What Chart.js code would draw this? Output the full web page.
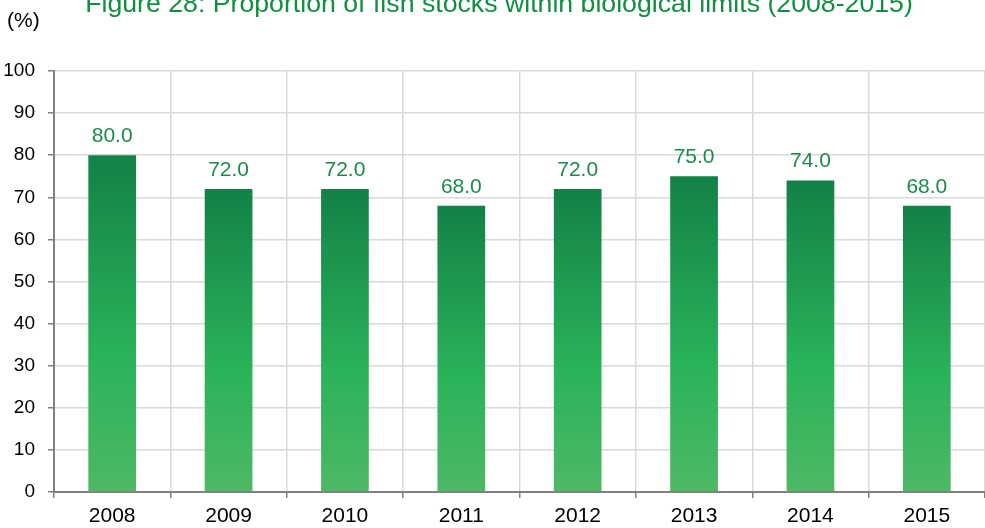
<!DOCTYPE html>
<html>
<head>
<meta charset="utf-8">
<script src="https://cdn.jsdelivr.net/npm/chart.js@4/dist/chart.umd.min.js"></script>
<style>
  html, body { margin:0; padding:0; background:#fff; }
  #wrap { width:985px; height:528px; position:relative; }
</style>
</head>
<body>
<div id="wrap"><canvas id="myBar" width="985" height="528"></canvas></div>
<script>
const years = ['2008','2009','2010','2011','2012','2013','2014','2015'];
const proportion = [80.0, 72.0, 72.0, 68.0, 72.0, 75.0, 74.0, 68.0];
const yTicks = [0,10,20,30,40,50,60,70,80,90,100];
const titleText = 'Figure 28: Proportion of fish stocks within biological limits (2008-2015)';
const unitText = '(%)';
const fontFam = '"Liberation Sans", Arial, sans-serif';

// gradient per bar, dark on top, lighter at base
function barFill(ctx){
  const chart = ctx.chart;
  const area = chart.chartArea;
  if(!area) return '#2ab35a';
  const y = chart.scales.y;
  const top = y.getPixelForValue(proportion[ctx.dataIndex]);
  const bot = y.getPixelForValue(0);
  const g = chart.ctx.createLinearGradient(0, top, 0, bot);
  g.addColorStop(0, '#138147');
  g.addColorStop(0.6, '#2ab35a');
  g.addColorStop(1, '#4eb865');
  return g;
}

const extraText = {
  id:'extraText',
  afterDatasetsDraw(chart){
    const c = chart.ctx;
    c.save();
    const meta = chart.getDatasetMeta(0);
    c.fillStyle = '#1b8b4b';
    c.font = '21px ' + fontFam;
    c.textAlign = 'center';
    c.textBaseline = 'middle';
    meta.data.forEach((bar,i)=>{
      c.fillText(proportion[i].toFixed(1), bar.x, bar.y - 19);
    });
    c.fillStyle = '#108f40';
    c.font = '26.7px ' + fontFam;
    c.textBaseline = 'alphabetic';
    c.fillText(titleText, 499, 12);
    c.fillStyle = '#000';
    c.font = '21px ' + fontFam;
    c.textAlign = 'left';
    c.textBaseline = 'middle';
    c.fillText(unitText, 7, 21);
    c.restore();
  }
};

const ctx = document.getElementById('myBar').getContext('2d');
const myBar = new Chart(ctx,{
  type:'bar',
  data:{
    labels:years,
    datasets:[{
      data:proportion,
      backgroundColor:barFill,
      borderWidth:0,
      categoryPercentage:1.0,
      barPercentage:0.41
    }]
  },
  options:{
    responsive:false,
    animation:false,
    layout:{ padding:{ top:71, left:3, right:0, bottom:0 } },
    plugins:{ legend:{display:false}, tooltip:{enabled:false} },
    scales:{
      x:{
        afterFit(scale){ scale.height = 36; },
        grid:{ offset:true, color:'#d9d9d9', tickColor:'#808080', tickLength:6, lineWidth:1.5 },
        border:{ color:'#808080', width:2 },
        ticks:{ color:'#000', font:{ size:21, family:fontFam }, padding:6 }
      },
      y:{
        min:0, max:100,
        afterFit(scale){ scale.width = 51; },
        afterBuildTicks(axis){ axis.ticks = yTicks.map(v=>({value:v})); },
        grid:{ color:'#d9d9d9', tickColor:'#808080', tickLength:6, lineWidth:1.5 },
        border:{ color:'#808080', width:2 },
        ticks:{ color:'#000', font:{ size:19, family:fontFam }, padding:13 }
      }
    }
  },
  plugins:[extraText]
});
</script>
</body>
</html>
